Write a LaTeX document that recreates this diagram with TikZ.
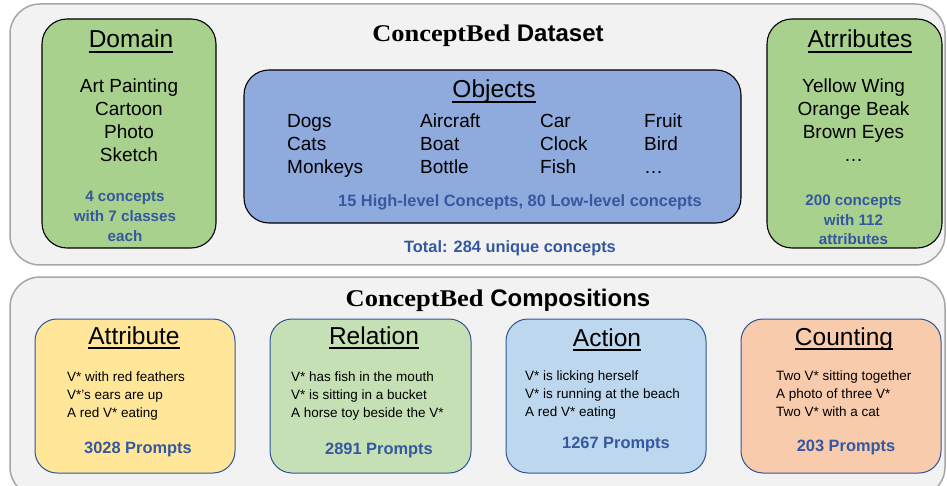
\documentclass[tikz,border=0pt]{standalone}
\usepackage{fontspec}
\setmainfont{Liberation Sans}
\newfontfamily\cbserif{Liberation Serif}[FakeStretch=1.1]
\definecolor{outerfill}{HTML}{F2F2F2}
\definecolor{outerline}{HTML}{A6A6A6}
\definecolor{domgreen}{HTML}{A9D18E}
\definecolor{objblue}{HTML}{8FAADC}
\definecolor{txtblue}{HTML}{3558A0}
\definecolor{attrfill}{HTML}{FFE699}
\definecolor{relfill}{HTML}{C5E0B4}
\definecolor{actfill}{HTML}{BDD7EE}
\definecolor{cntfill}{HTML}{F8CBAD}
\definecolor{boxline}{HTML}{2F5597}
\newcommand\myul[1]{\setbox0\hbox{#1}\rlap{\rule[-4.6pt]{\wd0}{1.6pt}}\box0}
\tikzset{
  outerbox/.style={draw=outerline, fill=outerfill, line width=1.5pt, rounded corners=30pt, inner sep=0pt},
  topbox/.style={draw=black, line width=1.1pt, rounded corners=25pt, inner sep=0pt},
  botbox/.style={draw=boxline, line width=1pt, rounded corners=22pt, inner sep=0pt},
  txt/.style={inner sep=0pt, anchor=base},
  ltxt/.style={inner sep=0pt, anchor=base west},
  bigtitle/.style={txt, font=\fontsize{24.5}{28}\selectfont},
  item/.style={txt, font=\fontsize{19}{23}\selectfont},
  litem/.style={ltxt, font=\fontsize{19}{23}\selectfont},
  smallitem/.style={ltxt, font=\fontsize{13.5}{16}\selectfont},
  bluetxt/.style={txt, text=txtblue, font=\bfseries\fontsize{15.2}{18}\selectfont},
  bluebig/.style={txt, text=txtblue, font=\bfseries\fontsize{16.4}{19}\selectfont},
}
\begin{document}
\begin{tikzpicture}[x=1pt,y=-1pt]
\useasboundingbox (0,0) rectangle (947,486);
% outer containers
\node[outerbox, minimum width=935pt, minimum height=261pt] (dataset) at (477.5,134.5) {};
\node[outerbox, minimum width=935pt, minimum height=220pt] (comps) at (477.5,387) {};
% dataset boxes
\node[topbox, fill=domgreen, minimum width=174pt, minimum height=229pt] (domain) at (129,133.5) {};
\node[topbox, fill=objblue, minimum width=497pt, minimum height=153pt] (objects) at (492.5,146.5) {};
\node[topbox, fill=domgreen, minimum width=175pt, minimum height=229pt] (attrs) at (854.5,133.5) {};
% dataset title
\node[txt, font=\fontsize{24}{28}\selectfont] (dtitle) at (488,42) {{\cbserif\bfseries ConceptBed} \bfseries Dataset};
% domain
\node[bigtitle] (domt) at (131,48) {\myul{Domain}};
\node[item] (d1) at (129,93) {Art Painting};
\node[item] (d2) at (129,115.5) {Cartoon};
\node[item] (d3) at (129,138.5) {Photo};
\node[item] (d4) at (129,162) {Sketch};
\node[bluetxt] (db1) at (125,202) {4 concepts};
\node[bluetxt] (db2) at (125,222) {with 7 classes};
\node[bluetxt] (db3) at (125,242) {each};
% objects
\node[bigtitle] (objt) at (494,98) {\myul{Objects}};
\node[litem] (o11) at (287,128) {Dogs};
\node[litem] (o12) at (287,151) {Cats};
\node[litem] (o13) at (287,174) {Monkeys};
\node[litem] (o21) at (420,128) {Aircraft};
\node[litem] (o22) at (420,151) {Boat};
\node[litem] (o23) at (420,174) {Bottle};
\node[litem] (o31) at (540,128) {Car};
\node[litem] (o32) at (540,151) {Clock};
\node[litem] (o33) at (540,174) {Fish};
\node[litem] (o41) at (644,128) {Fruit};
\node[litem] (o42) at (644,151) {Bird};
\node[litem] (o43) at (644,174) {\dots};
\node[bluebig] (ob) at (520,207) {15 High-level Concepts, 80 Low-level concepts};
\node[bluebig] (total) at (510,252) {Total: 284 unique concepts};
% attributes
\node[bigtitle] (attt) at (860,48) {\myul{Atrributes}};
\node[item] (a1) at (853.5,93) {Yellow Wing};
\node[item] (a2) at (853.5,115.5) {Orange Beak};
\node[item] (a3) at (853.5,138.5) {Brown Eyes};
\node[item] (a4) at (853.5,162) {\dots};
\node[bluetxt] (ab1) at (853.5,206) {200 concepts};
\node[bluetxt] (ab2) at (853.5,226) {with 112};
\node[bluetxt] (ab3) at (853.5,245) {attributes};
% compositions
\node[txt, font=\fontsize{24}{28}\selectfont] (ctitle) at (498,306) {{\cbserif\bfseries ConceptBed} \bfseries Compositions};
\node[botbox, fill=attrfill, minimum width=200pt, minimum height=154pt] (attrbox) at (135,396) {};
\node[botbox, fill=relfill, minimum width=201pt, minimum height=154pt] (relbox) at (370.5,396) {};
\node[botbox, fill=actfill, minimum width=200pt, minimum height=154pt] (actbox) at (606,396) {};
\node[botbox, fill=cntfill, minimum width=200pt, minimum height=154pt] (cntbox) at (841,396) {};
% attribute
\node[bigtitle] (at) at (134,344) {\myul{Attribute}};
\node[smallitem] (at1) at (67,381) {V* with red feathers};
\node[smallitem] (at2) at (67,399) {V*'s ears are up};
\node[smallitem] (at3) at (67,417) {A red V* eating};
\node[bluebig] (atp) at (138,453) {3028 Prompts};
% relation
\node[bigtitle] (rt) at (374,344) {\myul{Relation}};
\node[smallitem] (rt1) at (291,381) {V* has fish in the mouth};
\node[smallitem] (rt2) at (291,399) {V* is sitting in a bucket};
\node[smallitem] (rt3) at (291,417) {A horse toy beside the V*};
\node[bluebig] (rtp) at (379,454) {2891 Prompts};
% action
\node[bigtitle] (ac) at (607,346) {\myul{Action}};
\node[smallitem] (ac1) at (525,380) {V* is licking herself};
\node[smallitem] (ac2) at (525,398) {V* is running at the beach};
\node[smallitem] (ac3) at (525,416) {A red V* eating};
\node[bluebig] (acp) at (616,448) {1267 Prompts};
% counting
\node[bigtitle] (ct) at (844,345) {\myul{Counting}};
\node[smallitem] (ct1) at (776,380) {Two V* sitting together};
\node[smallitem] (ct2) at (776,398) {A photo of three V*};
\node[smallitem] (ct3) at (776,416) {Two V* with a cat};
\node[bluebig] (ctp) at (846,451) {203 Prompts};
\end{tikzpicture}
\end{document}
